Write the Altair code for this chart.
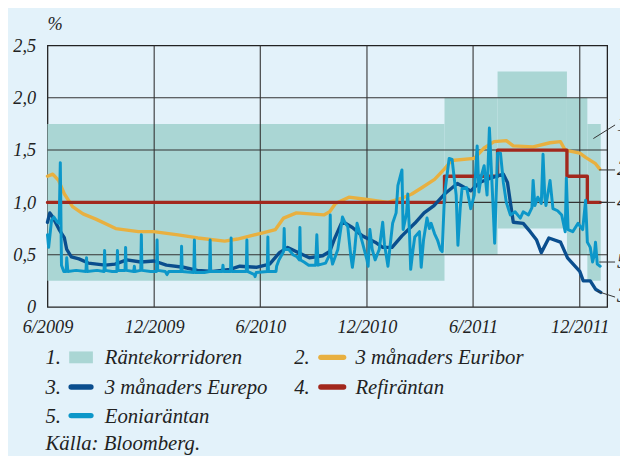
import altair as alt
import pandas as pd

# ---------------- data ----------------
tick_dates = ["2009-06-01", "2009-12-01", "2010-06-01", "2010-12-01", "2011-06-01", "2011-12-01"]
y_ticks = [0, 0.5, 1.0, 1.5, 2.0, 2.5]
y_grid = [0.5, 1.0, 1.5, 2.0]

corridor_start = ["2009-06-01", "2011-04-13", "2011-07-13", "2011-11-09", "2011-12-14"]
corridor_end = ["2011-04-13", "2011-07-13", "2011-11-09", "2011-12-14", "2012-01-06"]
corridor_low = [0.25, 0.50, 0.75, 0.50, 0.25]
corridor_high = [1.75, 2.00, 2.25, 2.00, 1.75]

refi = [("2009-06-01", 1.0), ("2011-04-13", 1.25), ("2011-07-13", 1.5),
        ("2011-11-09", 1.25), ("2011-12-14", 1.0), ("2012-01-05", 1.0)]

euribor = [("2009-06-01", 1.25), ("2009-06-10", 1.27), ("2009-06-20", 1.21), ("2009-06-30", 1.08),
           ("2009-07-14", 0.96), ("2009-08-01", 0.89), ("2009-08-23", 0.84), ("2009-09-26", 0.75),
           ("2009-11-04", 0.72), ("2009-11-30", 0.72), ("2010-01-11", 0.69), ("2010-02-14", 0.66),
           ("2010-04-01", 0.63), ("2010-04-23", 0.65), ("2010-05-15", 0.68), ("2010-06-07", 0.71),
           ("2010-06-27", 0.74), ("2010-07-11", 0.85), ("2010-08-02", 0.90), ("2010-09-18", 0.88),
           ("2010-09-28", 0.91), ("2010-10-08", 0.99), ("2010-10-31", 1.05), ("2010-11-28", 1.03),
           ("2011-01-06", 1.00), ("2011-01-30", 1.04), ("2011-02-16", 1.08), ("2011-03-05", 1.14),
           ("2011-03-27", 1.22), ("2011-04-13", 1.32), ("2011-04-25", 1.40), ("2011-06-03", 1.42),
           ("2011-06-20", 1.52), ("2011-07-07", 1.58), ("2011-07-28", 1.59), ("2011-08-09", 1.54),
           ("2011-09-12", 1.53), ("2011-10-11", 1.57), ("2011-10-29", 1.58), ("2011-11-06", 1.50),
           ("2011-12-01", 1.47), ("2011-12-11", 1.43), ("2011-12-28", 1.37), ("2012-01-04", 1.32)]

eurepo = [("2009-06-01", 0.81), ("2009-06-05", 0.90), ("2009-06-10", 0.86), ("2009-06-21", 0.74),
          ("2009-06-30", 0.66), ("2009-07-04", 0.55), ("2009-07-12", 0.48), ("2009-07-25", 0.46),
          ("2009-08-10", 0.42), ("2009-09-08", 0.40), ("2009-09-25", 0.41), ("2009-10-15", 0.45),
          ("2009-11-08", 0.43), ("2009-12-01", 0.44), ("2009-12-22", 0.40), ("2010-01-20", 0.38),
          ("2010-02-13", 0.35), ("2010-03-12", 0.34), ("2010-04-10", 0.36), ("2010-04-27", 0.39),
          ("2010-05-25", 0.38), ("2010-06-17", 0.41), ("2010-07-04", 0.52), ("2010-07-18", 0.57),
          ("2010-08-05", 0.52), ("2010-08-24", 0.47), ("2010-09-16", 0.49), ("2010-09-28", 0.53),
          ("2010-10-07", 0.66), ("2010-10-18", 0.80), ("2010-10-25", 0.80), ("2010-11-06", 0.76),
          ("2010-11-23", 0.68), ("2010-12-15", 0.62), ("2010-12-28", 0.57), ("2011-01-13", 0.57),
          ("2011-01-30", 0.68), ("2011-02-21", 0.80), ("2011-03-09", 0.90), ("2011-03-26", 0.97),
          ("2011-04-13", 1.08), ("2011-05-05", 1.18), ("2011-05-28", 1.11), ("2011-06-12", 1.19),
          ("2011-07-05", 1.24), ("2011-07-23", 1.27), ("2011-07-30", 1.19), ("2011-08-04", 1.00),
          ("2011-08-09", 0.81), ("2011-08-26", 0.80), ("2011-09-07", 0.72), ("2011-09-18", 0.64),
          ("2011-09-26", 0.52), ("2011-10-09", 0.66), ("2011-10-29", 0.62), ("2011-11-10", 0.47),
          ("2011-12-01", 0.34), ("2011-12-07", 0.25), ("2011-12-19", 0.25), ("2011-12-28", 0.17),
          ("2012-01-06", 0.14)]

eonia = [("2009-06-01", 0.69), ("2009-06-03", 0.57), ("2009-06-08", 0.83), ("2009-06-12", 0.86),
         ("2009-06-18", 0.81), ("2009-06-21", 0.80), ("2009-06-23", 1.38), ("2009-06-25", 0.40),
         ("2009-06-29", 0.34), ("2009-07-03", 0.34), ("2009-07-04", 0.47), ("2009-07-06", 0.34),
         ("2009-07-20", 0.35), ("2009-08-06", 0.34), ("2009-08-07", 0.47), ("2009-08-08", 0.34),
         ("2009-08-25", 0.35), ("2009-09-06", 0.34), ("2009-09-07", 0.54), ("2009-09-08", 0.35),
         ("2009-09-20", 0.34), ("2009-09-28", 0.34), ("2009-09-29", 0.54), ("2009-09-30", 0.35),
         ("2009-10-12", 0.35), ("2009-10-13", 0.57), ("2009-10-14", 0.35), ("2009-10-27", 0.34),
         ("2009-10-28", 0.39), ("2009-10-29", 0.34), ("2009-11-08", 0.35), ("2009-11-09", 0.69),
         ("2009-11-10", 0.35), ("2009-11-25", 0.34), ("2009-12-05", 0.34), ("2009-12-06", 0.64),
         ("2009-12-07", 0.35), ("2009-12-20", 0.34), ("2009-12-23", 0.31), ("2009-12-26", 0.34),
         ("2010-01-16", 0.34), ("2010-01-17", 0.58), ("2010-01-18", 0.34), ("2010-02-07", 0.33),
         ("2010-02-08", 0.64), ("2010-02-09", 0.33), ("2010-02-25", 0.33), ("2010-03-06", 0.34),
         ("2010-03-07", 0.64), ("2010-03-08", 0.34), ("2010-03-28", 0.34), ("2010-03-29", 0.40),
         ("2010-03-30", 0.34), ("2010-04-11", 0.34), ("2010-04-12", 0.66), ("2010-04-13", 0.34),
         ("2010-04-28", 0.34), ("2010-05-08", 0.34), ("2010-05-09", 0.64), ("2010-05-10", 0.34),
         ("2010-05-22", 0.31), ("2010-05-23", 0.29), ("2010-05-25", 0.33), ("2010-06-13", 0.34),
         ("2010-06-14", 0.67), ("2010-06-15", 0.34), ("2010-06-28", 0.34), ("2010-06-29", 0.39),
         ("2010-07-03", 0.45), ("2010-07-11", 0.53), ("2010-07-12", 0.75), ("2010-07-13", 0.55),
         ("2010-07-20", 0.55), ("2010-07-27", 0.50), ("2010-08-03", 0.48), ("2010-08-07", 0.45),
         ("2010-08-08", 0.76), ("2010-08-09", 0.45), ("2010-08-15", 0.43), ("2010-08-23", 0.40),
         ("2010-09-04", 0.40), ("2010-09-06", 0.69), ("2010-09-08", 0.40), ("2010-09-21", 0.42),
         ("2010-09-28", 0.50), ("2010-09-29", 0.88), ("2010-09-30", 0.50), ("2010-10-03", 0.41),
         ("2010-10-12", 0.55), ("2010-10-20", 0.86), ("2010-10-25", 0.80), ("2010-10-29", 0.77),
         ("2010-11-03", 0.50), ("2010-11-06", 0.38), ("2010-11-10", 0.55), ("2010-11-14", 0.80),
         ("2010-11-19", 0.70), ("2010-11-23", 0.62), ("2010-12-01", 0.45), ("2010-12-03", 0.39),
         ("2010-12-06", 0.74), ("2010-12-10", 0.55), ("2010-12-15", 0.45), ("2010-12-22", 0.55),
         ("2010-12-28", 0.81), ("2010-12-31", 0.60), ("2011-01-06", 0.39), ("2011-01-10", 0.60),
         ("2011-01-14", 0.80), ("2011-01-20", 0.90), ("2011-01-23", 1.16), ("2011-01-30", 1.31),
         ("2011-02-01", 0.74), ("2011-02-07", 0.90), ("2011-02-09", 1.08), ("2011-02-12", 0.70),
         ("2011-02-14", 0.36), ("2011-02-18", 0.55), ("2011-02-21", 0.67), ("2011-03-01", 0.72),
         ("2011-03-04", 0.38), ("2011-03-08", 0.64), ("2011-03-14", 0.85), ("2011-03-18", 0.75),
         ("2011-03-21", 0.80), ("2011-03-27", 0.70), ("2011-04-01", 0.64), ("2011-04-06", 0.55),
         ("2011-04-09", 0.53), ("2011-04-13", 1.07), ("2011-04-21", 1.42), ("2011-04-26", 1.41),
         ("2011-05-03", 1.07), ("2011-05-06", 0.59), ("2011-05-10", 0.95), ("2011-05-13", 1.13),
         ("2011-05-21", 1.14), ("2011-05-28", 0.94), ("2011-06-03", 1.07), ("2011-06-08", 1.54),
         ("2011-06-11", 1.10), ("2011-06-15", 1.25), ("2011-06-20", 1.35), ("2011-06-25", 1.07),
         ("2011-06-29", 1.71), ("2011-07-05", 1.00), ("2011-07-08", 0.61), ("2011-07-13", 1.47),
         ("2011-07-18", 1.47), ("2011-07-23", 1.19), ("2011-07-28", 1.00), ("2011-08-04", 0.88),
         ("2011-08-12", 0.91), ("2011-08-21", 0.85), ("2011-08-26", 0.91), ("2011-09-04", 0.88),
         ("2011-09-10", 0.95), ("2011-09-12", 1.21), ("2011-09-15", 0.97), ("2011-09-20", 1.05),
         ("2011-09-26", 0.99), ("2011-09-29", 1.46), ("2011-10-02", 1.05), ("2011-10-04", 0.97),
         ("2011-10-11", 1.21), ("2011-10-16", 0.94), ("2011-10-24", 0.92), ("2011-10-31", 0.88),
         ("2011-11-06", 0.72), ("2011-11-08", 1.23), ("2011-11-11", 0.74), ("2011-11-19", 0.72),
         ("2011-11-28", 0.80), ("2011-12-06", 0.74), ("2011-12-11", 1.02), ("2011-12-14", 0.62),
         ("2011-12-19", 0.57), ("2011-12-23", 0.43), ("2011-12-26", 0.50), ("2011-12-28", 0.62),
         ("2011-12-31", 0.41), ("2012-01-05", 0.39)]

legend_nums = ["1.", "2.", "3.", "4.", "5."]
legend_labels = ["Räntekorridoren", "3 månaders Euribor", "3 månaders Eurepo", "Refiräntan", "Eoniaräntan"]
source_text = "Källa: Bloomberg."
end_labels = ["1", "2", "4", "5", "3"]
end_label_values = [1.74, 1.32, 1.00, 0.43, 0.10]
leader_from_values = [1.61, 1.31, 1.00, 0.43, 0.15]
leader_to_values = [1.74, 1.31, 1.00, 0.43, 0.095]

# ---------------- style ----------------
BG = "#e3f2fa"
C_CORR = "#aad6d4"
C_EURIBOR = "#e8b040"
C_EUREPO = "#0a4e8e"
C_REFI = "#a2281d"
C_EONIA = "#0c97c9"
C_GRID = "#333333"
C_TEXT = "#222222"
FONT = "Liberation Serif"
FS_AXIS = 18.5
FS_LEG = 21

def series_df(pairs):
    return pd.DataFrame({"date": [p[0] for p in pairs], "value": [p[1] for p in pairs]})

xscale = alt.Scale(type="utc", nice=False,
                   domain=[alt.DateTime(year=2009, month=6, date=1, utc=True),
                           alt.DateTime(year=2012, month=1, date=17, utc=True)])
yscale = alt.Scale(domain=[0, 2.5], nice=False, zero=False)

xaxis = alt.Axis(values=[alt.DateTime(year=int(d[:4]), month=int(d[5:7]), date=1, utc=True) for d in tick_dates],
                 labelExpr="utcFormat(datum.value, '%-m/%Y')", grid=False, domain=False,
                 ticks=False, tickSize=0, labelPadding=11, labelFont=FONT, labelFontSize=FS_AXIS,
                 labelFontStyle="italic", labelColor=C_TEXT, labelFlush=False, labelOverlap=False,
                 title=None)
yaxis = alt.Axis(values=y_ticks,
                 labelExpr="datum.value == 0 ? '0' : replace(format(datum.value, '.1f'), '.', ',')",
                 grid=False, domain=False, ticks=False, tickSize=0, labelPadding=12, labelFont=FONT,
                 labelFontSize=FS_AXIS, labelFontStyle="italic", labelColor=C_TEXT, title=None)

def X(field):
    return alt.X(f"{field}:T", scale=xscale, axis=xaxis, title=None)

def Y(field):
    return alt.Y(f"{field}:Q", scale=yscale, axis=yaxis, title=None)

corr_df = pd.DataFrame({"start": corridor_start, "end": corridor_end,
                        "low": corridor_low, "high": corridor_high})
corridor = alt.Chart(corr_df).mark_rect(color=C_CORR).encode(
    x=X("start"), x2="end", y=Y("low"), y2="high")

hgrid = alt.Chart(pd.DataFrame({"v": y_grid})).mark_rule(color=C_GRID, strokeWidth=1.1).encode(y=Y("v"))
vgrid = alt.Chart(pd.DataFrame({"d": tick_dates[1:]})).mark_rule(color=C_GRID, strokeWidth=1.1).encode(x=X("d"))

def line(pairs, color, width=3.2, interp="linear"):
    return alt.Chart(series_df(pairs)).mark_line(
        color=color, strokeWidth=width, interpolate=interp, strokeJoin="round", strokeCap="round"
    ).encode(x=X("date"), y=Y("value"))

l_euribor = line(euribor, C_EURIBOR, 3.4)
l_refi = line(refi, C_REFI, 3.4, "step-after")
l_eurepo = line(eurepo, C_EUREPO, 3.4)
l_eonia = line(eonia, C_EONIA, 3.0)

layers = [corridor, hgrid, vgrid, l_euribor, l_refi, l_eurepo, l_eonia]

one = alt.Data(values=[{}])

def txt(s, x, y, align="left", baseline="alphabetic", size=FS_LEG):
    return alt.Chart(one).mark_text(text=s, align=align, baseline=baseline, font=FONT,
                                    fontSize=size, fontStyle="italic", color=C_TEXT).encode(
        x=alt.value(x), y=alt.value(y))

# percent sign
layers.append(txt("%", 0, -16, size=FS_AXIS))

# legend (offsets from the plot's top-left corner, in pixels)
rows = [323, 323, 353, 353, 382]
cols_num = [-2, 250, -2, 250, -2]
cols_txt = [58, 312, 58, 312, 58]
sym_x1 = [24, 277, 24, 277, 24]
sym_x2 = [44, 300, 44, 300, 44]
sym_colors = [C_CORR, C_EURIBOR, C_EUREPO, C_REFI, C_EONIA]
for i in range(5):
    layers.append(txt(legend_nums[i], cols_num[i], rows[i]))
    layers.append(txt(legend_labels[i], cols_txt[i], rows[i]))
    cy = rows[i] - 7
    if i == 0:
        layers.append(alt.Chart(one).mark_rect(color=C_CORR).encode(
            x=alt.value(22), x2=alt.value(46), y=alt.value(cy - 6), y2=alt.value(cy + 6)))
    else:
        layers.append(alt.Chart(one).mark_rule(color=sym_colors[i], strokeWidth=5.5, strokeCap="round").encode(
            x=alt.value(sym_x1[i]), x2=alt.value(sym_x2[i]), y=alt.value(cy)))
layers.append(txt(source_text, -2, 410))

# right-hand end labels with leader lines
leader_x1 = [553, 559, 559, 559, 557]
for i in range(5):
    ldf = pd.DataFrame({"a": [leader_from_values[i]], "b": [leader_to_values[i]], "t": [end_label_values[i]]})
    layers.append(alt.Chart(ldf).mark_rule(color=C_GRID, strokeWidth=1).encode(
        x=alt.value(leader_x1[i]), x2=alt.value(575), y=Y("a"), y2="b"))
    layers.append(alt.Chart(ldf).mark_text(text=end_labels[i], align="left", baseline="middle", font=FONT,
                                           fontSize=FS_LEG, fontStyle="italic", color=C_TEXT).encode(
        x=alt.value(577), y=Y("t")))

page_css = ("html{background:#e3f2fa;overflow:hidden;}"
            "body{background:#e3f2fa;margin:8px 0 0 8px;padding:0;overflow:hidden;}"
            "#vis.vega-embed{width:auto !important;display:block !important;}"
            ".vega-embed svg{display:block;flex-shrink:0;max-width:none;}")

chart = alt.layer(*layers).properties(
    width=567, height=265,
    autosize=alt.AutoSizeParams(type="none"),
    padding={"left": 40, "top": 35, "right": 13, "bottom": 148},
    background=BG,
    usermeta={"embedOptions": {"defaultStyle": page_css}},
).configure_view(stroke="#222222", strokeWidth=1.3)

chart.save("out.html", embed_options={"renderer": "svg", "actions": False})
